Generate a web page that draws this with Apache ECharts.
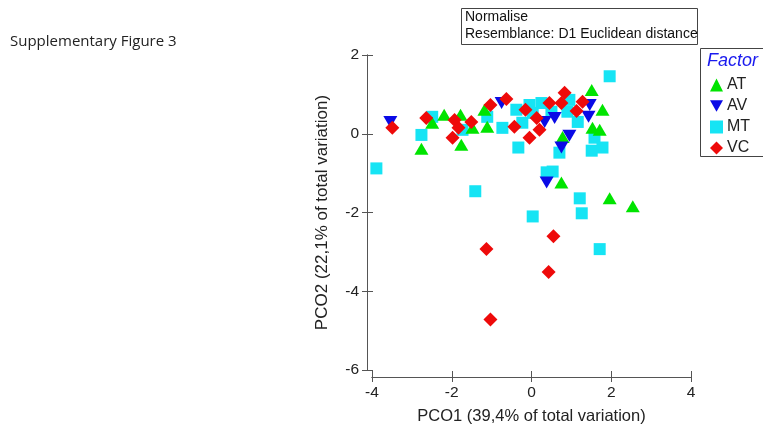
<!DOCTYPE html>
<html><head><meta charset="utf-8">
<script src="https://cdn.jsdelivr.net/npm/echarts@6/dist/echarts.min.js"></script>
<style>html,body{margin:0;padding:0;background:#fff}#c{width:763px;height:430px}</style>
</head><body><div id="c"></div>
<script>
// Data (PCO1, PCO2)
const seriesNames = ['AT', 'AV', 'MT', 'VC'];
const AT = [[-2.76,-0.38],[-2.49,0.28],[-2.19,0.48],[-1.78,0.48],[-1.76,-0.28],[-1.48,0.15],[-1.18,0.61],[-1.11,0.18],[1.51,1.11],[1.78,0.61],[1.53,0.15],[1.71,0.10],[0.78,-0.08],[0.75,-1.24],[1.96,-1.64],[2.54,-1.84]];
const AV = [[-3.54,0.30],[-0.75,0.78],[0.33,0.30],[0.58,0.40],[1.43,0.43],[1.46,0.73],[0.95,-0.05],[0.75,-0.35],[0.38,-1.24]];
const MT = [[-3.89,-0.88],[-2.76,-0.03],[-2.49,0.43],[-1.73,0.10],[-1.11,0.43],[-0.73,0.15],[-0.38,0.61],[-0.05,0.73],[0.25,0.78],[0.50,0.56],[0.95,0.86],[0.90,0.56],[1.16,0.30],[1.58,-0.10],[-0.33,-0.35],[0.70,-0.48],[1.51,-0.43],[1.78,-0.35],[1.96,1.46],[-1.41,-1.46],[0.38,-0.98],[0.53,-0.96],[1.21,-1.64],[1.26,-2.02],[0.03,-2.10],[1.71,-2.93],[-0.23,0.28],[0.03,0.53]];
const VC = [[-3.49,0.15],[-2.64,0.40],[-1.93,0.35],[-1.83,0.15],[-1.98,-0.10],[-1.51,0.30],[-1.03,0.73],[-0.63,0.88],[-0.43,0.18],[-0.15,0.61],[0.13,0.40],[0.20,0.10],[-0.05,-0.10],[0.45,0.78],[0.75,0.78],[0.83,1.04],[1.13,0.58],[1.28,0.81],[-1.13,-2.93],[0.55,-2.60],[0.43,-3.51],[-1.03,-4.72]];
const xTitle = 'PCO1 (39,4% of total variation)';
const yTitle = 'PCO2 (22,1% of total variation)';

const colors = {AT:'#00e400', AV:'#0a0ae6', MT:'#16e4f4', VC:'#ee0a0a'};
const symbols = {AT:'triangle', AV:'path://M0,0 L10,0 L5,9 Z', MT:'rect', VC:'diamond'};
const sizes = {AT:[14,12], AV:[14,12], MT:[12,12], VC:[14,14]};
const dataMap = {AT, AV, MT, VC};
const font = 'Liberation Sans, Arial, sans-serif';

const axisCommon = (inside) => ({
  type:'value',
  axisLine:{show:true, onZero:false, lineStyle:{color:'#555', width:1}},
  axisTick:{show:true, inside:inside, length:inside?6:5, lineStyle:{color:'#555'}},
  splitLine:{show:false}
});

const chart = echarts.init(document.getElementById('c'), null, {renderer:'canvas'});
const order = ['MT','AT','AV','VC'];
chart.setOption({
  animation:false,
  grid:{left:372, right:72, top:55, bottom:57},
  xAxis:[
    Object.assign(axisCommon(false), {min:-4, max:4, interval:2, offset:7,
      name:xTitle, nameLocation:'middle', nameGap:31,
      nameTextStyle:{fontFamily:font, fontSize:16.5, color:'#222'},
      axisLabel:{fontFamily:font, fontSize:15.5, color:'#222', margin:8}}),
    Object.assign(axisCommon(true), {min:-4, max:4, interval:2, offset:7, position:'bottom',
      axisLabel:{show:false}})
  ],
  yAxis:[
    Object.assign(axisCommon(false), {min:-6, max:2, interval:2, offset:5,
      name:yTitle, nameLocation:'middle', nameGap:36,
      nameTextStyle:{fontFamily:font, fontSize:17, color:'#222'},
      axisLabel:{fontFamily:font, fontSize:15.5, color:'#222', margin:8}}),
    Object.assign(axisCommon(true), {min:-6, max:2, interval:2, offset:5, position:'left',
      axisLabel:{show:false}})
  ],
  legend:{orient:'vertical', left:705, top:72, itemGap:5, itemWidth:13, itemHeight:13,
    data:seriesNames, textStyle:{fontFamily:font, fontSize:16, color:'#222', padding:[0,0,0,-1]}},
  series: order.map(n => ({name:n, type:'scatter', data:dataMap[n], symbol:symbols[n], symbolSize:sizes[n],
    itemStyle:{color:colors[n], opacity:1}})),
  graphic:[
    {type:'text', left:10, top:34, style:{text:'Supplementary Figure 3', font:'15px Open Sans, sans-serif', fill:'#222'}},
    {type:'rect', shape:{x:461.5, y:8.5, width:236, height:36}, style:{fill:'#fff', stroke:'#444', lineWidth:1}},
    {type:'text', left:465, top:10, style:{text:'Normalise', font:'14px '+font, fill:'#111'}},
    {type:'text', left:465, top:27, style:{text:'Resemblance: D1 Euclidean distance', font:'14px '+font, fill:'#111'}},
    {type:'rect', z:-1, shape:{x:700.5, y:48.5, width:70, height:108}, style:{fill:'#fff', stroke:'#444', lineWidth:1}},
    {type:'text', left:707, top:52, style:{text:'Factor', font:'italic 18px '+font, fill:'#1a1aee'}}
  ]
});
</script></body></html>
